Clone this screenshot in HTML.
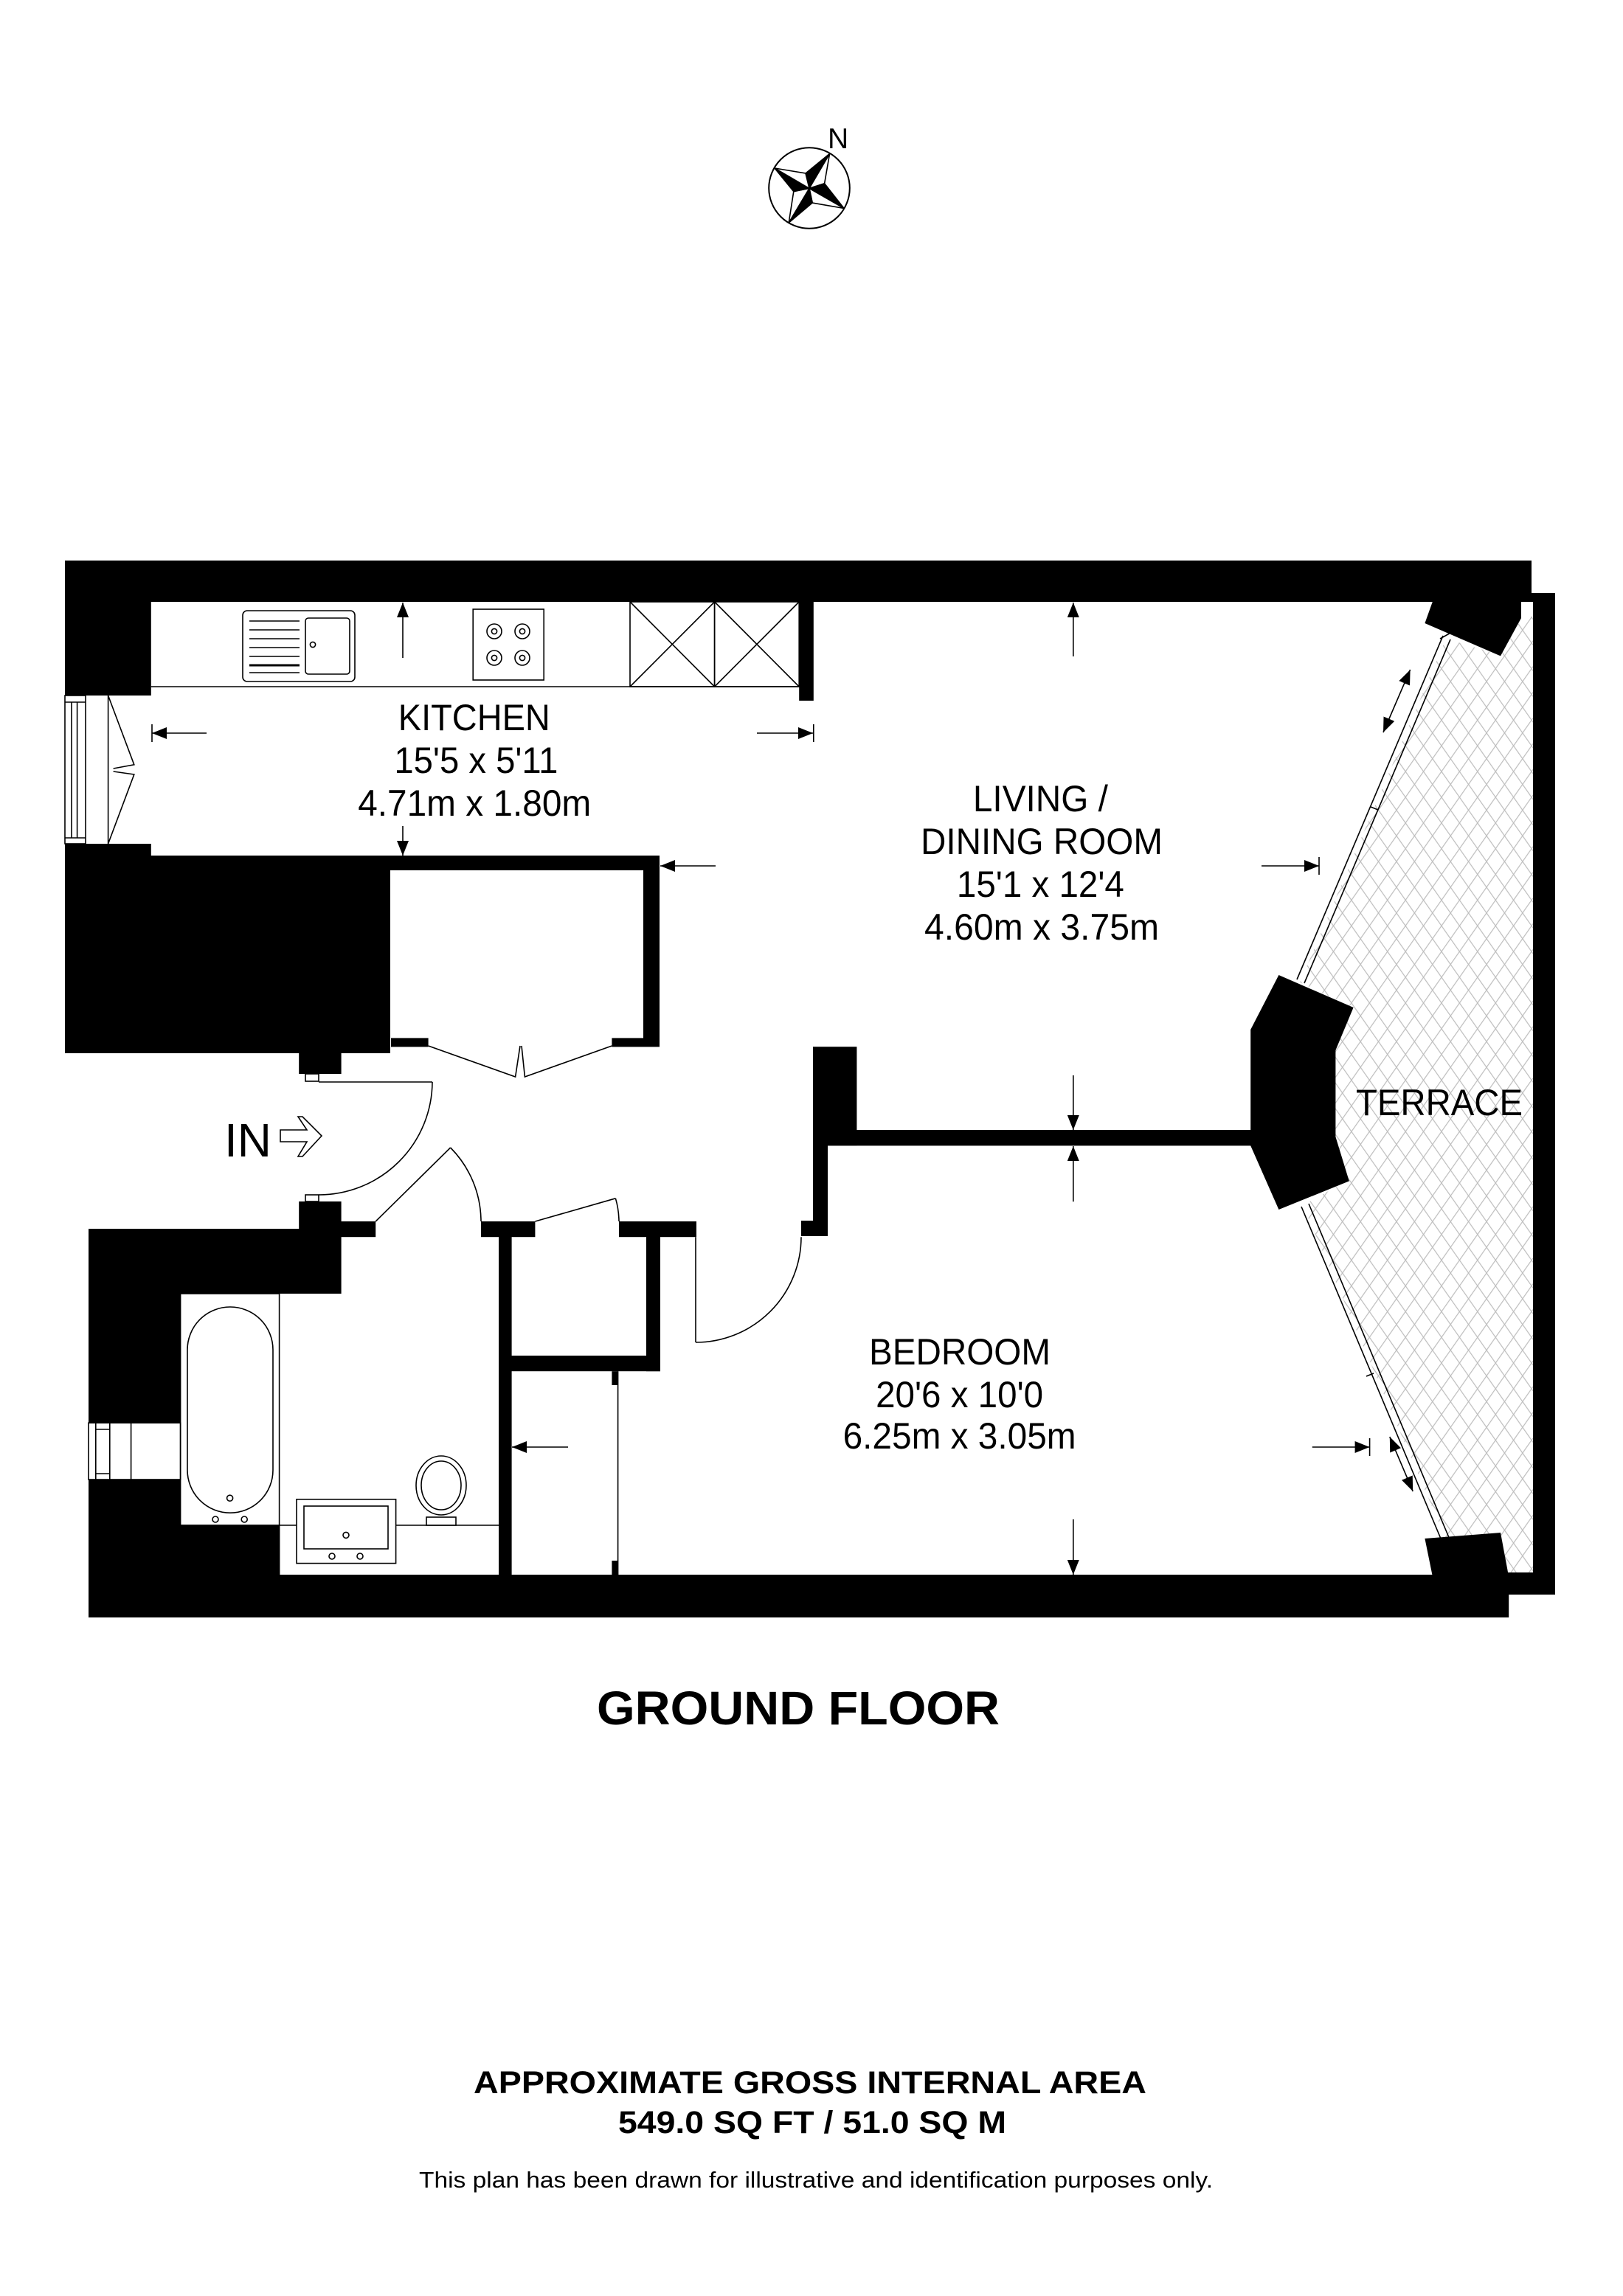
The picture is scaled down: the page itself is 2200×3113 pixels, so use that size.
<!DOCTYPE html>
<html><head><meta charset="utf-8"><style>
html,body{margin:0;padding:0;background:#fff}
svg{display:block}
text{font-family:"Liberation Sans",Arial,sans-serif;fill:#000}
</style></head><body>
<svg width="2200" height="3113" viewBox="0 0 1100 1556.5" xmlns="http://www.w3.org/2000/svg">
<defs>
<pattern id="hatch" width="10" height="10" patternUnits="userSpaceOnUse" patternTransform="rotate(35)">
<line x1="0" y1="0" x2="0" y2="10" stroke="#bdbdbd" stroke-width="1.2"/>
</pattern>
<pattern id="hatch2" width="10" height="10" patternUnits="userSpaceOnUse" patternTransform="rotate(-35)">
<line x1="0" y1="0" x2="0" y2="10" stroke="#bdbdbd" stroke-width="1.2"/>
</pattern>
<marker id="ah" viewBox="0 0 10 10" refX="10" refY="5" markerWidth="10" markerHeight="8" orient="auto-start-reverse" markerUnits="userSpaceOnUse" preserveAspectRatio="none"><path d="M0,0 L10,5 L0,10 z" fill="#000"/></marker>
</defs>
<rect width="1100" height="1556.5" fill="#fff"/>

<!-- compass -->
<circle cx="548.5" cy="127.5" r="27.4" fill="none" stroke="#000" stroke-width="1"/>
<g stroke="#000" stroke-width="0.8" stroke-linejoin="miter">
<polygon points="548.5,127.7 546,117.5 562.3,104.2" fill="#000"/>
<polygon points="548.5,127.7 558.8,124.4 562.3,104.2" fill="#fff"/>
<polygon points="548.5,127.7 558.8,124.4 572,141.2" fill="#000"/>
<polygon points="548.5,127.7 550.6,137.5 572,141.2" fill="#fff"/>
<polygon points="548.5,127.7 550.6,137.5 534.6,151" fill="#000"/>
<polygon points="548.5,127.7 537.9,129.8 534.6,151" fill="#fff"/>
<polygon points="548.5,127.7 537.9,129.8 525,114" fill="#000"/>
<polygon points="548.5,127.7 546,117.5 525,114" fill="#fff"/>
</g>
<text x="561" y="100.5" font-size="19.5">N</text>

<!-- terrace hatch -->
<polygon points="1017,444 1030,418 1039,418 1039,1066 1022,1066 1017,1039 982,1048 883,817 914,800 905,770 905,712 917,683 881,666 980,433" fill="url(#hatch)"/>
<polygon points="1017,444 1030,418 1039,418 1039,1066 1022,1066 1017,1039 982,1048 883,817 914,800 905,770 905,712 917,683 881,666 980,433" fill="url(#hatch2)"/>

<!-- walls -->
<g fill="#000">
<rect x="44" y="380" width="994" height="28"/>
<rect x="1031" y="402" width="23" height="6"/>
<rect x="1039" y="402" width="15" height="679"/>
<rect x="1022" y="1066" width="32" height="15"/>
<rect x="44" y="380" width="58.4" height="91.5"/>
<rect x="541.6" y="408" width="9.8" height="67"/>
<rect x="44" y="572" width="58.4" height="10"/>
<rect x="44" y="580" width="403" height="10"/>
<rect x="436" y="580" width="11" height="129"/>
<rect x="44" y="580" width="220.5" height="134"/>
<rect x="265" y="703.7" width="25.3" height="6"/>
<rect x="414.7" y="703.7" width="32.3" height="6"/>
<rect x="202.6" y="714" width="28.7" height="14"/>
<rect x="202.6" y="814.5" width="28.7" height="20"/>
<rect x="60" y="833" width="171.3" height="44"/>
<rect x="60" y="833" width="62.3" height="131.6"/>
<rect x="60" y="1003" width="62.3" height="65"/>
<rect x="60" y="1034" width="129.6" height="34"/>
<rect x="231" y="828" width="23.6" height="10.6"/>
<rect x="326" y="828" width="36.7" height="10.6"/>
<rect x="419.5" y="828" width="52.5" height="10.6"/>
<rect x="338" y="828" width="8.8" height="240"/>
<rect x="438" y="838" width="9.5" height="91.6"/>
<rect x="346" y="919" width="101.5" height="10.6"/>
<rect x="414.7" y="929.6" width="4.1" height="9.4"/>
<rect x="414.7" y="1058" width="4.1" height="10"/>
<rect x="60" y="1067.5" width="962.6" height="29"/>
<rect x="551" y="709.6" width="29.7" height="67"/>
<rect x="551" y="766" width="297" height="10.7"/>
<rect x="551" y="766" width="10" height="72"/>
<rect x="543" y="827.5" width="18" height="10.5"/>
<polygon points="847.6,698 866.7,661 917.3,683 905.2,712 905.2,770.6 914.4,800.7 866.7,820 847.6,776.7"/>
<polygon points="965.7,422.5 971,407.7 1031,407.7 1031,419 1017,444.7"/>
<polygon points="965.7,1043 1017,1039 1022.6,1069 971,1069"/>
</g>

<!-- glazing -->
<g fill="none" stroke="#000" stroke-width="0.8">
<line x1="978" y1="431" x2="879" y2="664"/>
<line x1="983" y1="433.5" x2="884" y2="666.5"/>
<line x1="929" y1="547" x2="934" y2="549"/>
<line x1="882" y1="818" x2="979" y2="1049"/>
<line x1="887" y1="816" x2="984" y2="1047"/>
<line x1="926" y1="933" x2="931" y2="931"/>
<line x1="976" y1="1048" x2="985" y2="1044"/>
<line x1="976" y1="433" x2="985" y2="428"/>
</g>

<!-- kitchen left window -->
<g fill="none" stroke="#000" stroke-width="0.8">
<rect x="44" y="471.5" width="14" height="100.5" fill="#fff"/>
<line x1="48.5" y1="476" x2="48.5" y2="568"/>
<line x1="52.3" y1="476" x2="52.3" y2="568"/>
<line x1="44" y1="476" x2="58" y2="476"/>
<line x1="44" y1="568" x2="58" y2="568"/>
<line x1="73.3" y1="471.5" x2="73.3" y2="572"/>
<polyline points="73.3,471.5 90.9,518.4 76.8,521"/>
<polyline points="76.8,523 90.9,525 73.3,572"/>
</g>
<!-- bathroom window -->
<g fill="none" stroke="#000" stroke-width="0.8">
<rect x="60" y="964.6" width="62.3" height="38.4" fill="#fff"/>
<line x1="64.9" y1="964.6" x2="64.9" y2="1003"/>
<line x1="74.4" y1="964.6" x2="74.4" y2="1003"/>
<line x1="88.8" y1="964.6" x2="88.8" y2="1003"/>
<line x1="64.9" y1="969" x2="74.4" y2="969"/>
<line x1="64.9" y1="999" x2="74.4" y2="999"/>
</g>

<!-- kitchen fittings -->
<g fill="none" stroke="#000" stroke-width="0.8">
<line x1="102.4" y1="465.5" x2="541.6" y2="465.5"/>
<rect x="164.5" y="414" width="76" height="48" rx="3"/>
<rect x="207" y="419" width="30" height="38" rx="2"/>
<circle cx="212" cy="437" r="1.8"/>
<line x1="169" y1="421" x2="203" y2="421"/>
<line x1="169" y1="427" x2="203" y2="427"/>
<line x1="169" y1="433" x2="203" y2="433"/>
<line x1="169" y1="439" x2="203" y2="439"/>
<line x1="169" y1="445" x2="203" y2="445"/>
<line x1="169" y1="451" x2="203" y2="451" stroke-width="1.5"/>
<line x1="169" y1="456" x2="203" y2="456"/>
<rect x="320.6" y="413" width="48" height="48"/>
<circle cx="335" cy="428" r="5"/><circle cx="335" cy="428" r="1.8"/>
<circle cx="354" cy="428" r="5"/><circle cx="354" cy="428" r="1.8"/>
<circle cx="335" cy="446" r="5"/><circle cx="335" cy="446" r="1.8"/>
<circle cx="354" cy="446" r="5"/><circle cx="354" cy="446" r="1.8"/>
<rect x="427" y="408" width="57.3" height="57.5"/>
<rect x="484.3" y="408" width="57.3" height="57.5"/>
<line x1="427" y1="408" x2="484.3" y2="465.5"/><line x1="484.3" y1="408" x2="427" y2="465.5"/>
<line x1="484.3" y1="408" x2="541.6" y2="465.5"/><line x1="541.6" y1="408" x2="484.3" y2="465.5"/>
</g>

<!-- doors -->
<g fill="none" stroke="#000" stroke-width="0.8">
<polyline points="290.3,709 349.3,730 352.5,709"/>
<polyline points="353.5,709 355.7,730 414.7,709"/>
<rect x="207" y="728" width="9" height="5"/>
<rect x="207" y="810" width="9" height="4.5"/>
<line x1="216" y1="733.5" x2="293" y2="733.5"/>
<path d="M293,733.5 A77,77 0 0 1 216,810"/>
<line x1="254.6" y1="828" x2="305.3" y2="778"/>
<path d="M305.3,778 A71.3,71.3 0 0 1 326,828"/>
<line x1="362.7" y1="828" x2="417.2" y2="812.4"/>
<path d="M417.2,812.4 A57,57 0 0 1 419.5,828"/>
<line x1="471.5" y1="838.6" x2="471.5" y2="910"/>
<path d="M471.5,910 A71.5,71.5 0 0 0 543,838.6"/>
<line x1="418.8" y1="929.6" x2="418.8" y2="1068"/>
</g>

<!-- bathroom fittings -->
<g fill="none" stroke="#000" stroke-width="0.8">
<rect x="122.3" y="877" width="67" height="157"/>
<rect x="127" y="886" width="58" height="139.6" rx="29" ry="29"/>
<circle cx="155.8" cy="1015.6" r="2"/><circle cx="146" cy="1030" r="2"/><circle cx="165.6" cy="1030" r="2"/>
<line x1="189.3" y1="1034" x2="338" y2="1034"/>
<line x1="189.3" y1="1034" x2="189.3" y2="1067.5"/>
<rect x="201" y="1016.4" width="67.3" height="43.4" fill="#fff"/>
<rect x="206" y="1021" width="57" height="29"/>
<circle cx="234.5" cy="1040.7" r="2"/><circle cx="225" cy="1055" r="2"/><circle cx="244" cy="1055" r="2"/>
<ellipse cx="299" cy="1007" rx="17" ry="20" fill="#fff"/>
<ellipse cx="299" cy="1007" rx="13.5" ry="16.5"/>
<rect x="289" y="1028.5" width="20" height="5.5" fill="#fff"/>
</g>

<!-- IN arrow -->
<text x="152" y="784" font-size="32">IN</text>
<path d="M190,766 H208 L202,757 L205,757 L218,770 L205,784 L202,784 L208,774 H190 Z" fill="#fff" stroke="#000" stroke-width="0.8"/>

<!-- dimension arrows -->
<g stroke="#000" stroke-width="0.8" fill="none" marker-end="url(#ah)">
<line x1="273" y1="446" x2="273" y2="408.5"/>
<line x1="273" y1="560" x2="273" y2="580"/>
<line x1="140" y1="497" x2="103" y2="497"/>
<line x1="513" y1="497" x2="551" y2="497"/>
<line x1="485" y1="587" x2="447.5" y2="587"/>
<line x1="727.4" y1="445" x2="727.4" y2="408.5"/>
<line x1="855" y1="587" x2="894" y2="587"/>
<line x1="727.4" y1="729" x2="727.4" y2="766"/>
<line x1="727.4" y1="814.6" x2="727.4" y2="777"/>
<line x1="727.4" y1="1030" x2="727.4" y2="1067.5"/>
<line x1="889.4" y1="981" x2="928.3" y2="981"/>
<line x1="385" y1="981" x2="347" y2="981"/>
</g>
<g stroke="#000" stroke-width="0.8">
<line x1="103" y1="491" x2="103" y2="503"/>
<line x1="551.4" y1="491" x2="551.4" y2="503"/>
<line x1="894" y1="581" x2="894" y2="593"/>
<line x1="928.3" y1="975" x2="928.3" y2="987"/>
</g>
<g stroke="#000" stroke-width="0.8" marker-end="url(#ah)" marker-start="url(#ah)">
<line x1="955.8" y1="454" x2="937.5" y2="496.5"/>
<line x1="941.9" y1="974" x2="957.6" y2="1011"/>
</g>

<!-- room labels -->
<g font-size="25" text-anchor="middle">
<text x="321.4" y="495" textLength="103" lengthAdjust="spacingAndGlyphs">KITCHEN</text>
<text x="322.7" y="524" textLength="111" lengthAdjust="spacingAndGlyphs">15'5 x 5'11</text>
<text x="321.6" y="553" textLength="158" lengthAdjust="spacingAndGlyphs">4.71m x 1.80m</text>
<text x="705.2" y="550" textLength="91.5" lengthAdjust="spacingAndGlyphs">LIVING /</text>
<text x="706" y="579" textLength="164" lengthAdjust="spacingAndGlyphs">DINING ROOM</text>
<text x="705.2" y="608" textLength="113.5" lengthAdjust="spacingAndGlyphs">15'1 x 12'4</text>
<text x="706" y="637" textLength="159" lengthAdjust="spacingAndGlyphs">4.60m x 3.75m</text>
<text x="975.5" y="756" textLength="113" lengthAdjust="spacingAndGlyphs">TERRACE</text>
<text x="650.5" y="925" textLength="123" lengthAdjust="spacingAndGlyphs">BEDROOM</text>
<text x="650.3" y="954" textLength="113.5" lengthAdjust="spacingAndGlyphs">20'6 x 10'0</text>
<text x="650.3" y="982" textLength="158" lengthAdjust="spacingAndGlyphs">6.25m x 3.05m</text>
</g>

<!-- titles -->
<text x="541" y="1169" font-size="32" font-weight="bold" text-anchor="middle" textLength="273" lengthAdjust="spacingAndGlyphs">GROUND FLOOR</text>
<text x="549" y="1419" font-size="21.5" font-weight="bold" text-anchor="middle" textLength="456" lengthAdjust="spacingAndGlyphs">APPROXIMATE GROSS INTERNAL AREA</text>
<text x="550.5" y="1446" font-size="21.5" font-weight="bold" text-anchor="middle" textLength="263" lengthAdjust="spacingAndGlyphs">549.0 SQ FT / 51.0 SQ M</text>
<text x="553" y="1483" font-size="15.5" text-anchor="middle" textLength="538" lengthAdjust="spacingAndGlyphs">This plan has been drawn for illustrative and identification purposes only.</text>
</svg>
</body></html>
